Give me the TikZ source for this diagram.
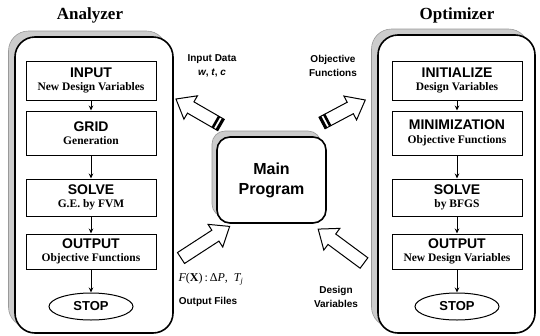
\documentclass[tikz,border=0pt]{standalone}
\usepackage{fontspec}
\setmainfont{Liberation Serif}
\setsansfont{Liberation Sans}
\usetikzlibrary{arrows.meta,shapes.geometric,shadows}

\tikzset{
  panel/.style={draw=black, line width=1.6pt, rounded corners=20pt, fill=white,
    drop shadow={shadow xshift=-6.5pt, shadow yshift=6pt, fill=gray!40, draw=gray!80, line width=0.6pt, opacity=1}},
  mainbox/.style={draw=black, line width=1.6pt, rounded corners=13pt, fill=white,
    minimum width=109pt, minimum height=86pt, align=center,
    font=\sffamily\bfseries\fontsize{16}{20}\selectfont,
    drop shadow={shadow xshift=-5pt, shadow yshift=6pt, fill=gray!40, draw=gray!80, line width=0.6pt, opacity=1}},
  stepbox/.style={draw=black, line width=1pt, minimum width=130pt, align=center, inner sep=0pt, fill=white},
  stopnode/.style={draw=black, ellipse, line width=1pt, minimum width=84pt, minimum height=27pt, inner sep=0pt,
    font=\sffamily\bfseries\fontsize{13}{13}\selectfont},
  flow/.style={-{Stealth[length=5pt,width=4.5pt]}, line width=0.9pt},
  harrow/.style={draw=black, line width=1pt, fill=white, line join=miter},
  lbl/.style={align=center, inner sep=0pt, font=\sffamily\bfseries\fontsize{10}{14}\selectfont},
  titlefont/.style={font=\bfseries\fontsize{17}{18}\selectfont},
}
\newcommand\boxtext[2]{{\sffamily\bfseries\fontsize{14}{15}\selectfont #1}\\[1.5pt]{\bfseries\fontsize{11.5}{12.5}\selectfont #2}}
\newcommand\hollowarrow[5]{%
  \begin{scope}[shift={(#1,#2)},rotate=#3]
    \draw[harrow] (0,-6.5) -- ({#4-17},-6.5) -- ({#4-17},-13.5) -- (#4,0) -- ({#4-17},13.5) -- ({#4-17},6.5) -- (0,6.5) -- cycle;
    \ifnum#5=1
      \fill (0,-6.5) rectangle (2.6,6.5);
      \fill (4.6,-6.5) rectangle (7.2,6.5);
    \fi
  \end{scope}}

\begin{document}
\begin{tikzpicture}[x=1pt, y=-1pt]
\useasboundingbox (0,0) rectangle (540,335);

% titles
\node[titlefont] (tA) at (90,15) {Analyzer};
\node[titlefont] (tO) at (457,15) {Optimizer};

% panels
\node[panel, minimum width=158pt, minimum height=296pt] (pA) at (94,185) {};
\node[panel, minimum width=157pt, minimum height=298pt] (pO) at (456.5,184) {};

% Analyzer column
\node[stepbox, minimum height=39pt] (a1) at (91,80.5) {\boxtext{INPUT}{New Design Variables}};
\node[stepbox, minimum height=44pt] (a2) at (91,133) {\boxtext{GRID}{Generation}};
\node[stepbox, minimum height=37pt] (a3) at (91,197.5) {\boxtext{SOLVE}{G.E. by FVM}};
\node[stepbox, minimum height=35pt] (a4) at (91,251.5) {\boxtext{OUTPUT}{Objective Functions}};
\node[stopnode] (a5) at (91,306.5) {STOP};
\draw[flow] (a1) -- (a2);
\draw[flow] (a2) -- (a3);
\draw[flow] (a3) -- (a4);
\draw[flow] (a4) -- (a5);

% Optimizer column
\node[stepbox, minimum height=39pt] (o1) at (457,80.5) {\boxtext{INITIALIZE}{Design Variables}};
\node[stepbox, minimum height=44pt] (o2) at (457,133) {\boxtext{MINIMIZATION}{Objective Functions}};
\node[stepbox, minimum height=37pt] (o3) at (457,197.5) {\boxtext{SOLVE}{by BFGS}};
\node[stepbox, minimum height=35pt] (o4) at (457,251.5) {\boxtext{OUTPUT}{New Design Variables}};
\node[stopnode] (o5) at (457,306.5) {STOP};
\draw[flow] (o1) -- (o2);
\draw[flow] (o2) -- (o3);
\draw[flow] (o3) -- (o4);
\draw[flow] (o4) -- (o5);

% main program
\node[mainbox] (mp) at (271.5,180) {Main\\Program};

% hollow arrows
\hollowarrow{221}{125}{150}{52}{1}
\hollowarrow{322}{123}{28}{49}{1}
\hollowarrow{181}{258}{33}{58}{0}
\hollowarrow{364}{263}{143.5}{57}{0}

% labels
\node[lbl] (lin) at (212,65.5) {Input Data\\{\itshape w}, {\itshape t}, {\itshape c}};
\node[lbl] (lobj) at (333,65.5) {Objective\\Functions};
\node[inner sep=0pt, font=\fontsize{12}{12}\selectfont] (lfx) at (211,279) {{\itshape F}(\textbf{X})\,:\,Δ{\itshape P},\ \ {\itshape T}\textsubscript{\itshape j}};
\node[lbl] (lout) at (208,302) {Output Files};
\node[lbl] (ldv) at (336,296.5) {Design\\Variables};
\end{tikzpicture}
\end{document}
